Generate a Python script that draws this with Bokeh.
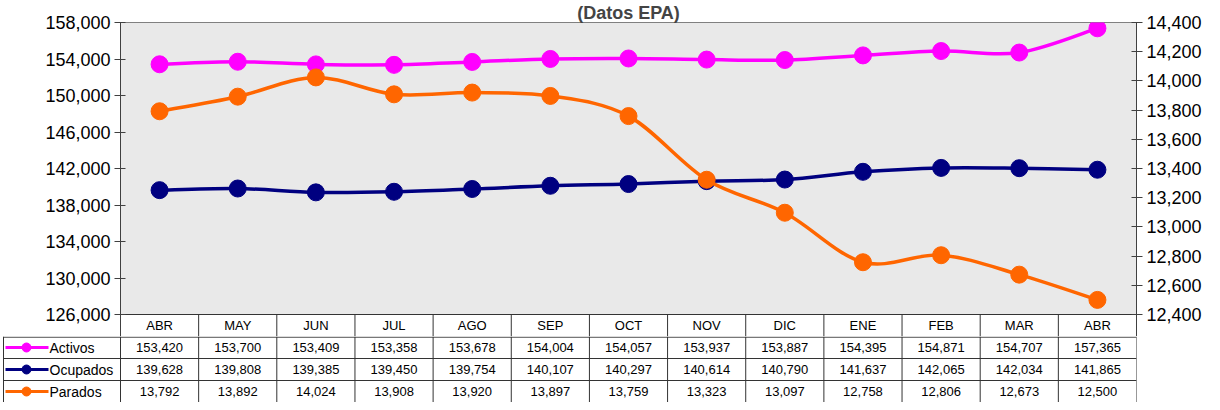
from bokeh.plotting import figure
from bokeh.models import Range1d, LinearAxis, FixedTicker, NumeralTickFormatter
from bokeh.layouts import column
from bokeh.embed import file_html
from bokeh.resources import INLINE
from bokeh.core.properties import value

# ---------------- data ----------------
months = ["ABR", "MAY", "JUN", "JUL", "AGO", "SEP", "OCT", "NOV", "DIC", "ENE", "FEB", "MAR", "ABR"]
activos = [153420, 153700, 153409, 153358, 153678, 154004, 154057, 153937, 153887, 154395, 154871, 154707, 157365]
ocupados = [139628, 139808, 139385, 139450, 139754, 140107, 140297, 140614, 140790, 141637, 142065, 142034, 141865]
parados = [13792, 13892, 14024, 13908, 13920, 13897, 13759, 13323, 13097, 12758, 12806, 12673, 12500]
series_names = ["Activos", "Ocupados", "Parados"]
left_ticks = list(range(126000, 158001, 4000))
right_ticks = list(range(12400, 14401, 200))
title_text = "(Datos EPA)"

# ---------------- style / layout ----------------
FONT = "Liberation Sans"
colors = {"Activos": "#FF00FF", "Ocupados": "#000080", "Parados": "#FF6600"}
W = 1204
BL, BR = 120, 68           # borders of the chart frame
FW = W - BL - BR           # chart frame width
PLOT_H, ROW_H = 292, 22    # plot area height, table row height
n = len(months)
xs = [i + 0.5 for i in range(n)]
gl = "#333333"

# ranges extended below the axis minimum to host the header row of the table
l0, l1 = left_ticks[0], left_ticks[-1]
r0, r1 = right_ticks[0], right_ticks[-1]
l_start = l0 - (l1 - l0) * ROW_H / PLOT_H
r_start = r0 - (r1 - r0) * ROW_H / PLOT_H

p = figure(frame_width=FW, frame_height=PLOT_H + ROW_H, x_range=Range1d(0, n),
           y_range=Range1d(l_start, l1),
           output_backend="svg", toolbar_location=None,
           x_axis_location=None, y_axis_location="left",
           min_border_left=BL, min_border_right=BR, min_border_top=0, min_border_bottom=0,
           title=title_text)
p.extra_y_ranges = {"par": Range1d(r_start, r1)}
p.title.align = "center"
p.title.text_font = FONT
p.title.text_font_size = "18px"
p.title.text_font_style = "bold"
p.title.standoff = 0
p.background_fill_color = "#e9e9e9"
p.border_fill_color = "white"
p.outline_line_color = "#808080"
p.xgrid.visible = False
p.ygrid.visible = False

raxis = LinearAxis(y_range_name="par")
p.add_layout(raxis, "right")
p.yaxis[0].ticker = FixedTicker(ticks=left_ticks)
raxis.ticker = FixedTicker(ticks=right_ticks)
for ax in (p.yaxis[0], raxis):
    ax.formatter = NumeralTickFormatter(format="0,0")
    ax.axis_line_color = "#404040"
    ax.major_tick_line_color = "#404040"
    ax.minor_tick_line_color = None
    ax.major_tick_in = 5
    ax.major_tick_out = 6
    ax.major_label_text_font = FONT
    ax.major_label_text_font_size = "18px"
    ax.major_label_text_color = "black"
    ax.major_label_standoff = 4

# header row of the table (inside the chart frame, under the axis minimum)
p.quad(left=[0], right=[n], bottom=[l_start], top=[l0], fill_color="white", line_color=None)
p.segment(x0=list(range(n + 1)), y0=[l_start] * (n + 1), x1=list(range(n + 1)), y1=[l0] * (n + 1),
          line_color=gl, line_width=1)
p.segment(x0=[0], y0=[l0], x1=[n], y1=[l0], line_color=gl, line_width=1)
p.text(x=xs, y=[(l_start + l0) / 2] * n, text=months, text_align="center", text_baseline="middle",
       text_font=value(FONT), text_font_size="13px", text_color="black")


def smooth_segments(x, y):
    m = len(x)
    d = dict(x0=[], y0=[], x1=[], y1=[], cx0=[], cy0=[], cx1=[], cy1=[])
    for i in range(m - 1):
        a, b = max(i - 1, 0), min(i + 2, m - 1)
        d["x0"].append(x[i]); d["y0"].append(y[i])
        d["x1"].append(x[i + 1]); d["y1"].append(y[i + 1])
        d["cx0"].append(x[i] + (x[i + 1] - x[a]) / 6.0)
        d["cy0"].append(y[i] + (y[i + 1] - y[a]) / 6.0)
        d["cx1"].append(x[i + 1] - (x[b] - x[i]) / 6.0)
        d["cy1"].append(y[i + 1] - (y[b] - y[i]) / 6.0)
    return d


for name, vals, rng in (("Activos", activos, "default"),
                        ("Ocupados", ocupados, "default"),
                        ("Parados", parados, "par")):
    seg = smooth_segments(xs, vals)
    p.bezier(line_color=colors[name], line_width=3.5, y_range_name=rng, **seg)
    p.scatter(xs, vals, size=17, color=colors[name], y_range_name=rng)

# ---------------- data rows of the table ----------------
unit = n / FW                            # data units per pixel in the chart frame
TW = W - 2 - BR                          # table frame width (starts 2px from the left)
tab_left = n - TW * unit
t = figure(frame_width=TW, frame_height=3 * ROW_H, x_range=Range1d(tab_left, n), y_range=Range1d(3, 0),
           output_backend="svg", toolbar_location=None,
           x_axis_location=None, y_axis_location=None,
           min_border_left=2, min_border_right=BR, min_border_top=0, min_border_bottom=0)
t.outline_line_color = None
t.xgrid.visible = False
t.ygrid.visible = False
t.background_fill_color = "white"
t.border_fill_color = "white"
for fig in (p, t):
    try:
        fig.frame_align = False
    except Exception:
        pass

edge = tab_left + unit
t.segment(x0=[edge] * 3, y0=[0.03, 1, 2], x1=[n] * 3, y1=[0.03, 1, 2], line_color=gl, line_width=1)
t.segment(x0=list(range(n + 1)) + [edge], y0=[0] * (n + 2), x1=list(range(n + 1)) + [edge],
          y1=[3] * (n + 2), line_color=gl, line_width=1)

for r, (name, vals) in enumerate(zip(series_names, (activos, ocupados, parados))):
    t.text(x=xs, y=[r + 0.5] * n, text=[f"{v:,}" for v in vals], text_align="center",
           text_baseline="middle", text_font=value(FONT), text_font_size="13px", text_color="black")
    t.segment(x0=[tab_left + 3 * unit], y0=[r + 0.5], x1=[tab_left + 46 * unit], y1=[r + 0.5],
              line_color=colors[name], line_width=3)
    t.scatter([tab_left + 24 * unit], [r + 0.5], size=9, color=colors[name])
    t.text(x=[tab_left + 47 * unit], y=[r + 0.5], text=[name], text_align="left",
           text_baseline="middle", text_font=value(FONT), text_font_size="14px", text_color="black")

layout = column(p, t, spacing=0)
open("out.html", "w").write(file_html(layout, INLINE))
